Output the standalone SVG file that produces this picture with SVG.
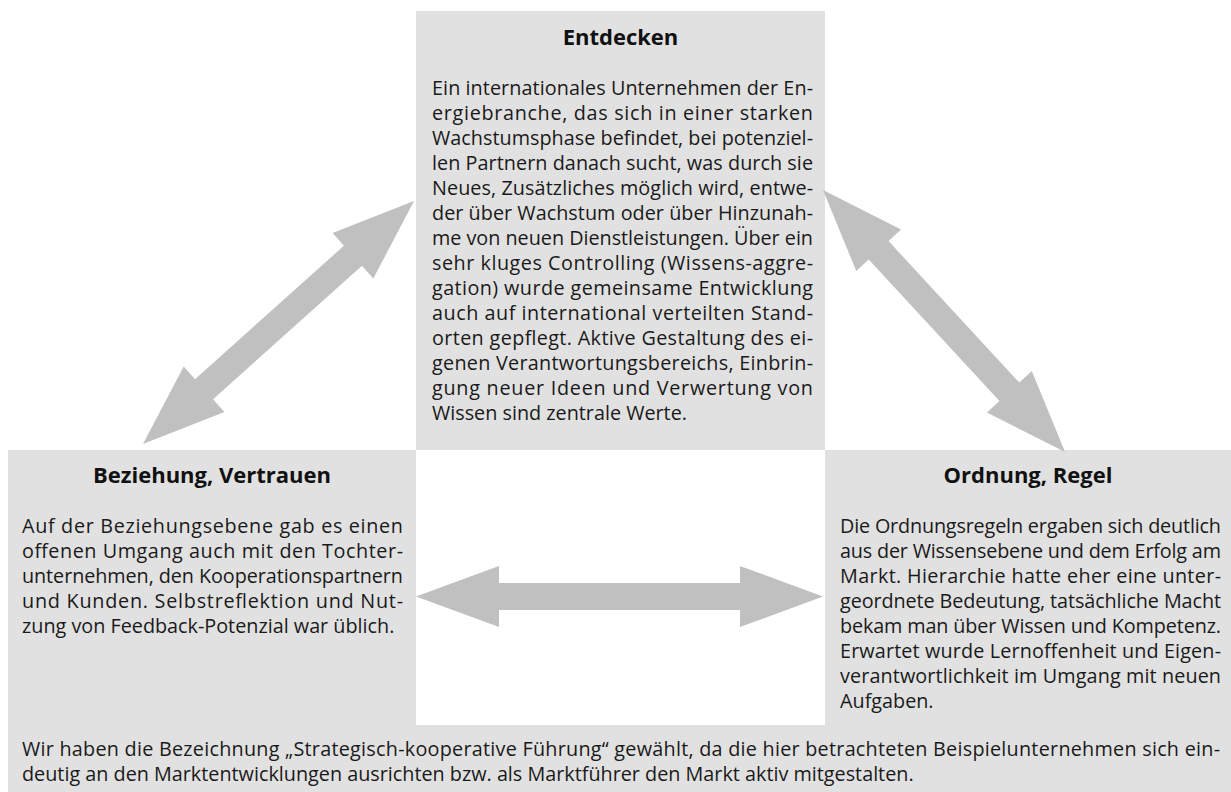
<svg xmlns="http://www.w3.org/2000/svg" width="1231" height="792" viewBox="0 0 1231 792">
  <style>
    .panel { fill: #e1e1e1; }
    .title { font-family: "Open Sans", "Noto Sans", sans-serif; font-size: 22px; font-weight: 700; fill: #111; text-anchor: middle; }
    .body { font-family: "Open Sans", "Noto Sans", sans-serif; font-size: 19.8px; fill: #1a1a1a; }
    .arrow { fill: #c0c0c0; }
  </style>
  <rect width="1231" height="792" fill="#ffffff"/>

  <!-- top panel -->
  <g id="entdecken">
    <rect class="panel" x="416" y="11" width="409" height="439"/>
    <text class="title" x="620.5" y="45">Entdecken</text>
    <g class="body">
      <text x="432" y="95" textLength="381" lengthAdjust="spacing">Ein internationales Unternehmen der En-</text>
      <text x="432" y="120" textLength="381" lengthAdjust="spacing">ergiebranche, das sich in einer starken</text>
      <text x="432" y="145" textLength="381" lengthAdjust="spacing">Wachstumsphase befindet, bei potenziel-</text>
      <text x="432" y="170" textLength="381" lengthAdjust="spacing">len Partnern danach sucht, was durch sie</text>
      <text x="432" y="195" textLength="381" lengthAdjust="spacing">Neues, Zusätzliches möglich wird, entwe-</text>
      <text x="432" y="220" textLength="381" lengthAdjust="spacing">der über Wachstum oder über Hinzunah-</text>
      <text x="432" y="245" textLength="381" lengthAdjust="spacing">me von neuen Dienstleistungen. Über ein</text>
      <text x="432" y="270" textLength="381" lengthAdjust="spacing">sehr kluges Controlling (Wissens-aggre-</text>
      <text x="432" y="295" textLength="381" lengthAdjust="spacing">gation) wurde gemeinsame Entwicklung</text>
      <text x="432" y="320" textLength="381" lengthAdjust="spacing">auch auf international verteilten Stand-</text>
      <text x="432" y="345" textLength="381" lengthAdjust="spacing">orten gepflegt. Aktive Gestaltung des ei-</text>
      <text x="432" y="370" textLength="381" lengthAdjust="spacing">genen Verantwortungsbereichs, Einbrin-</text>
      <text x="432" y="395" textLength="381" lengthAdjust="spacing">gung neuer Ideen und Verwertung von</text>
      <text x="432" y="420">Wissen sind zentrale Werte.</text>
    </g>
  </g>

  <!-- lower left panel -->
  <g id="beziehung">
    <rect class="panel" x="8" y="450" width="408" height="275"/>
    <text class="title" x="212" y="483">Beziehung, Vertrauen</text>
    <g class="body">
      <text x="22" y="533" textLength="381" lengthAdjust="spacing">Auf der Beziehungsebene gab es einen</text>
      <text x="22" y="558" textLength="381" lengthAdjust="spacing">offenen Umgang auch mit den Tochter-</text>
      <text x="22" y="583" textLength="381" lengthAdjust="spacing">unternehmen, den Kooperationspartnern</text>
      <text x="22" y="608" textLength="381" lengthAdjust="spacing">und Kunden. Selbstreflektion und Nut-</text>
      <text x="22" y="633">zung von Feedback-Potenzial war üblich.</text>
    </g>
  </g>

  <!-- lower right panel -->
  <g id="ordnung">
    <rect class="panel" x="825" y="450" width="406" height="275"/>
    <text class="title" x="1028" y="483">Ordnung, Regel</text>
    <g class="body">
      <text x="840" y="533" textLength="381" lengthAdjust="spacing">Die Ordnungsregeln ergaben sich deutlich</text>
      <text x="840" y="558" textLength="381" lengthAdjust="spacing">aus der Wissensebene und dem Erfolg am</text>
      <text x="840" y="583" textLength="381" lengthAdjust="spacing">Markt. Hierarchie hatte eher eine unter-</text>
      <text x="840" y="608" textLength="381" lengthAdjust="spacing">geordnete Bedeutung, tatsächliche Macht</text>
      <text x="840" y="633" textLength="381" lengthAdjust="spacing">bekam man über Wissen und Kompetenz.</text>
      <text x="840" y="658" textLength="381" lengthAdjust="spacing">Erwartet wurde Lernoffenheit und Eigen-</text>
      <text x="840" y="683" textLength="381" lengthAdjust="spacing">verantwortlichkeit im Umgang mit neuen</text>
      <text x="840" y="708">Aufgaben.</text>
    </g>
  </g>

  <!-- caption band -->
  <g id="fazit">
    <rect class="panel" x="8" y="725" width="1223" height="67"/>
    <g class="body">
      <text x="22" y="756" textLength="1198" lengthAdjust="spacing">Wir haben die Bezeichnung „Strategisch-kooperative Führung“ gewählt, da die hier betrachteten Beispielunternehmen sich ein-</text>
      <text x="22" y="781">deutig an den Marktentwicklungen ausrichten bzw. als Marktführer den Markt aktiv mitgestalten.</text>
    </g>
  </g>

  <!-- double-headed block arrows -->
  <g id="connectors">
    <polygon class="arrow" transform="translate(143,444) rotate(-41.88)"
      points="0,0 82,-30.5 82,-13.5 282,-13.5 282,-30.5 364,0 282,30.5 282,13.5 82,13.5 82,30.5"/>
    <polygon class="arrow" transform="translate(823,190) rotate(47.27)"
      points="0,0 82,-30.5 82,-13.5 274.7,-13.5 274.7,-30.5 356.7,0 274.7,30.5 274.7,13.5 82,13.5 82,30.5"/>
    <polygon class="arrow" transform="translate(416,596.5)"
      points="0,0 83,-30.5 83,-13.5 324,-13.5 324,-30.5 407,0 324,30.5 324,13.5 83,13.5 83,30.5"/>
  </g>
</svg>
